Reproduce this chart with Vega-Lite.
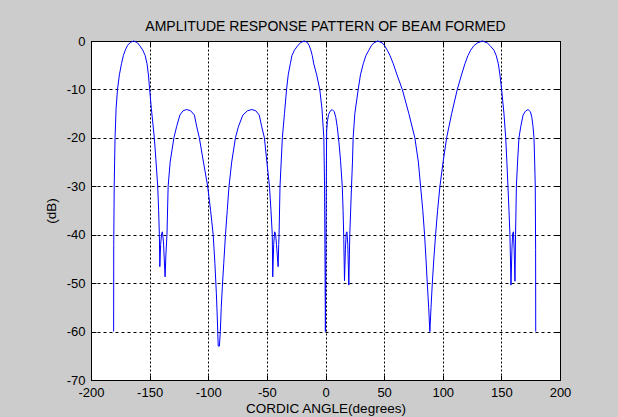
{
"$schema": "https://vega.github.io/schema/vega-lite/v6.json",
"width": 469, "height": 339,
"autosize": {"type": "none"},
"padding": {"left": 91, "top": 41, "right": 58, "bottom": 37},
"background": "#cccccc",
"config": {"view": {"stroke": "#000", "strokeWidth": 1, "fill": "white"}, "font": "Liberation Sans"},
"title": {"text": "AMPLITUDE RESPONSE PATTERN OF BEAM FORMED", "fontSize": 14, "fontWeight": "normal", "font": "Liberation Sans", "color": "#000", "offset": 10, "baseline": "alphabetic", "dy": 20},
"data": {"values": [
{"angle":-180.7,"dB":-60},{"angle":-180.6,"dB":-42},{"angle":-180.2,"dB":-30},{"angle":-179.5,"dB":-20},{"angle":-178.6,"dB":-14},{"angle":-177.4,"dB":-10},{"angle":-175.8,"dB":-7},{"angle":-174.0,"dB":-4.7},{"angle":-172.4,"dB":-3},{"angle":-170.8,"dB":-1.9},{"angle":-168.8,"dB":-0.9},{"angle":-166.5,"dB":-0.3},{"angle":-163.6,"dB":0},{"angle":-160.7,"dB":-0.3},{"angle":-158.3,"dB":-1.0},{"angle":-155.8,"dB":-1.9},{"angle":-153.8,"dB":-3},{"angle":-152.2,"dB":-4.7},{"angle":-151.0,"dB":-7},{"angle":-150.0,"dB":-10},{"angle":-148.5,"dB":-14},{"angle":-146.0,"dB":-20},{"angle":-144.5,"dB":-25},{"angle":-143.1,"dB":-30},{"angle":-142.3,"dB":-35},{"angle":-141.7,"dB":-40},{"angle":-141.3,"dB":-46.6},{"angle":-140.6,"dB":-42},{"angle":-139.8,"dB":-39.8},{"angle":-139.1,"dB":-39.4},{"angle":-138.2,"dB":-41.5},{"angle":-136.8,"dB":-48.7},{"angle":-136.1,"dB":-44},{"angle":-135.2,"dB":-40},{"angle":-134.2,"dB":-30},{"angle":-132.5,"dB":-25},{"angle":-129.3,"dB":-20},{"angle":-127.0,"dB":-17.7},{"angle":-124.2,"dB":-15.3},{"angle":-121.5,"dB":-14.4},{"angle":-118.4,"dB":-14.15},{"angle":-115.0,"dB":-14.4},{"angle":-111.8,"dB":-15.3},{"angle":-109.8,"dB":-17.7},{"angle":-107.6,"dB":-20},{"angle":-104.1,"dB":-25},{"angle":-100.5,"dB":-30},{"angle":-98.0,"dB":-35},{"angle":-95.8,"dB":-40},{"angle":-94.3,"dB":-46},{"angle":-93.1,"dB":-52},{"angle":-92.3,"dB":-57},{"angle":-91.5,"dB":-63},{"angle":-90.5,"dB":-63},{"angle":-89.7,"dB":-60},{"angle":-88.9,"dB":-55},{"angle":-87.8,"dB":-50},{"angle":-86.8,"dB":-46},{"angle":-85.3,"dB":-40},{"angle":-83.8,"dB":-35},{"angle":-82.3,"dB":-30},{"angle":-80.0,"dB":-25},{"angle":-76.8,"dB":-20},{"angle":-74.3,"dB":-17.7},{"angle":-70.5,"dB":-15.3},{"angle":-66.5,"dB":-14.4},{"angle":-62.9,"dB":-14.15},{"angle":-59.5,"dB":-14.4},{"angle":-56.5,"dB":-15.3},{"angle":-54.4,"dB":-17.7},{"angle":-52.1,"dB":-20},{"angle":-50.0,"dB":-25},{"angle":-47.8,"dB":-30},{"angle":-46.5,"dB":-35},{"angle":-45.4,"dB":-40},{"angle":-45.0,"dB":-48.7},{"angle":-44.2,"dB":-42},{"angle":-43.4,"dB":-39.4},{"angle":-42.6,"dB":-39.8},{"angle":-41.8,"dB":-42},{"angle":-40.4,"dB":-46.6},{"angle":-39.9,"dB":-42},{"angle":-39.6,"dB":-40},{"angle":-38.8,"dB":-30},{"angle":-37.8,"dB":-25},{"angle":-36.8,"dB":-20},{"angle":-35.0,"dB":-15},{"angle":-33.2,"dB":-10},{"angle":-31.8,"dB":-7},{"angle":-30.0,"dB":-4.7},{"angle":-28.6,"dB":-3},{"angle":-26.5,"dB":-1.9},{"angle":-23.5,"dB":-0.9},{"angle":-21.0,"dB":-0.3},{"angle":-18.2,"dB":0},{"angle":-15.5,"dB":-0.3},{"angle":-14.0,"dB":-0.9},{"angle":-12.5,"dB":-1.9},{"angle":-11.3,"dB":-3},{"angle":-10.0,"dB":-4.7},{"angle":-7.5,"dB":-7},{"angle":-4.9,"dB":-10},{"angle":-3.0,"dB":-14},{"angle":-1.4,"dB":-20},{"angle":-0.8,"dB":-30},{"angle":-0.5,"dB":-42},{"angle":-0.1,"dB":-60},{"angle":0.4,"dB":-42},{"angle":0.8,"dB":-24},{"angle":1.0,"dB":-18.5},{"angle":1.6,"dB":-16.6},{"angle":2.6,"dB":-15.2},{"angle":3.9,"dB":-14.5},{"angle":5.7,"dB":-14.15},{"angle":7.5,"dB":-14.6},{"angle":8.8,"dB":-15.8},{"angle":10.0,"dB":-17.7},{"angle":11.5,"dB":-21},{"angle":12.8,"dB":-24.6},{"angle":14.3,"dB":-30},{"angle":15.0,"dB":-35},{"angle":15.6,"dB":-41},{"angle":16.2,"dB":-49.5},{"angle":17.0,"dB":-43},{"angle":17.6,"dB":-39.8},{"angle":18.3,"dB":-39.4},{"angle":19.0,"dB":-42},{"angle":19.9,"dB":-50.4},{"angle":20.4,"dB":-44},{"angle":20.7,"dB":-40},{"angle":22.2,"dB":-30},{"angle":23.0,"dB":-25},{"angle":23.6,"dB":-20},{"angle":25.0,"dB":-15},{"angle":27.9,"dB":-10},{"angle":29.8,"dB":-7},{"angle":32.2,"dB":-4.7},{"angle":34.5,"dB":-3},{"angle":37.0,"dB":-1.9},{"angle":39.0,"dB":-1.0},{"angle":41.2,"dB":-0.4},{"angle":44.6,"dB":0},{"angle":48.4,"dB":-0.4},{"angle":50.5,"dB":-1.0},{"angle":52.7,"dB":-1.9},{"angle":55.0,"dB":-3},{"angle":57.8,"dB":-4.7},{"angle":61.0,"dB":-7},{"angle":65.5,"dB":-10},{"angle":71.1,"dB":-15},{"angle":76.2,"dB":-20},{"angle":79.2,"dB":-25},{"angle":81.1,"dB":-30},{"angle":83.0,"dB":-35},{"angle":84.5,"dB":-40},{"angle":85.7,"dB":-45},{"angle":86.8,"dB":-50},{"angle":88.0,"dB":-55},{"angle":89.0,"dB":-60},{"angle":90.0,"dB":-55},{"angle":91.1,"dB":-50},{"angle":92.4,"dB":-45},{"angle":93.9,"dB":-40},{"angle":95.6,"dB":-35},{"angle":97.6,"dB":-30},{"angle":100.3,"dB":-25},{"angle":103.3,"dB":-20},{"angle":107.6,"dB":-15},{"angle":112.4,"dB":-10},{"angle":116.0,"dB":-7},{"angle":118.9,"dB":-4.7},{"angle":121.5,"dB":-3},{"angle":123.8,"dB":-1.9},{"angle":126.5,"dB":-1.0},{"angle":129.5,"dB":-0.4},{"angle":133.8,"dB":0},{"angle":138.0,"dB":-0.4},{"angle":140.5,"dB":-1.0},{"angle":143.7,"dB":-1.9},{"angle":145.6,"dB":-3},{"angle":147.4,"dB":-4.7},{"angle":148.8,"dB":-7},{"angle":150.2,"dB":-10},{"angle":152.2,"dB":-15},{"angle":153.7,"dB":-20},{"angle":154.7,"dB":-25},{"angle":155.6,"dB":-30},{"angle":156.5,"dB":-35},{"angle":157.3,"dB":-40},{"angle":158.2,"dB":-50.4},{"angle":159.0,"dB":-43},{"angle":159.6,"dB":-39.8},{"angle":160.3,"dB":-39.4},{"angle":160.9,"dB":-43},{"angle":161.6,"dB":-49.6},{"angle":162.1,"dB":-40},{"angle":162.8,"dB":-30},{"angle":163.8,"dB":-25},{"angle":165.0,"dB":-20},{"angle":166.5,"dB":-17.7},{"angle":168.5,"dB":-15.3},{"angle":170.5,"dB":-14.5},{"angle":172.7,"dB":-14.15},{"angle":174.8,"dB":-14.6},{"angle":176.0,"dB":-15.8},{"angle":177.0,"dB":-17.7},{"angle":177.8,"dB":-20},{"angle":178.4,"dB":-25},{"angle":178.9,"dB":-30},{"angle":179.2,"dB":-43},{"angle":179.3,"dB":-60}
]},
"layer": [
{"mark": {"type": "line", "color": "#0000ff", "strokeWidth": 1},
 "encoding": {
  "x": {"field": "angle", "type": "quantitative", "scale": {"domain": [-200, 200], "nice": false, "zero": false},
        "axis": {"values": [-200,-150,-100,-50,0,50,100,150,200], "labelExpr": "toString(datum.value)", "grid": true, "gridColor": "#000", "gridDash": [2,2], "gridWidth": 1, "gridOpacity": 1,
                 "domainColor": "#000", "tickColor": "#000", "tickSize": -5, "labelPadding": 11, "labelFontSize": 13, "labelColor": "#000", "labelFont": "Liberation Sans",
                 "labelFlush": false, "labelOverlap": false, "title": "CORDIC ANGLE(degrees)", "titleFontSize": 13.5, "titleFontWeight": "normal", "titleColor": "#000", "titleFont": "Liberation Sans", "titlePadding": 2}},
  "y": {"field": "dB", "type": "quantitative", "scale": {"domain": [-70, 0], "nice": false, "zero": false},
        "axis": {"values": [-70,-60,-50,-40,-30,-20,-10,0], "labelExpr": "toString(datum.value)", "grid": true, "gridColor": "#000", "gridDash": [3,3], "gridWidth": 1, "gridOpacity": 1,
                 "domainColor": "#000", "tickColor": "#000", "tickSize": -5, "labelPadding": 11, "labelFontSize": 13, "labelColor": "#000", "labelFont": "Liberation Sans",
                 "labelFlush": false, "labelOverlap": false, "title": "(dB)", "titleFontSize": 13.5, "titleFontWeight": "normal", "titleColor": "#000", "titleFont": "Liberation Sans", "titlePadding": 8}}
 }},
{"mark": {"type": "line", "opacity": 0},
 "encoding": {
  "x": {"field": "angle", "type": "quantitative", "axis": {"orient": "top", "values": [-200,-150,-100,-50,0,50,100,150,200], "labels": false, "grid": false, "title": null, "domainColor": "#000", "tickColor": "#000", "tickSize": -5}},
  "y": {"field": "dB", "type": "quantitative", "axis": {"orient": "right", "values": [-70,-60,-50,-40,-30,-20,-10,0], "labels": false, "grid": false, "title": null, "domainColor": "#000", "tickColor": "#000", "tickSize": -5}}
 }}
],
"resolve": {"axis": {"x": "independent", "y": "independent"}}
}
